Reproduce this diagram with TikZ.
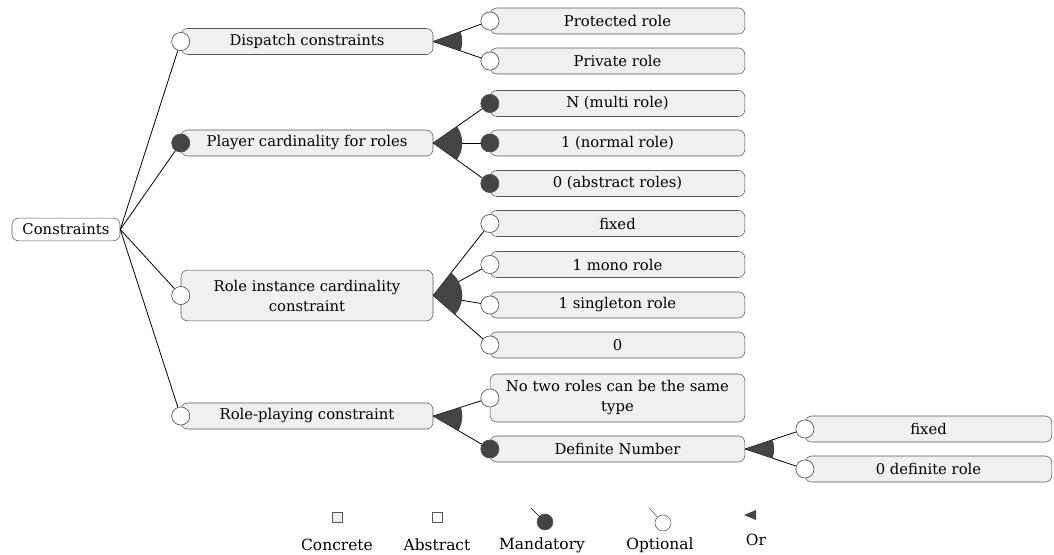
\documentclass[tikz,border=0pt]{standalone}
\usepackage{fontspec}
\setmainfont{DejaVu Serif}
\usetikzlibrary{calc}
\definecolor{boxgray}{HTML}{F0F0F0}
\definecolor{edgegray}{HTML}{555555}
\definecolor{darkfill}{HTML}{444444}
\tikzset{
  feat/.style={draw=edgegray, fill=boxgray, rounded corners=5pt, align=center, inner sep=1pt,
    font=\fontsize{11.1pt}{15pt}\selectfont, minimum height=19.5pt},
  lvlone/.style={feat, minimum width=189pt},
  lvltwo/.style={feat, minimum width=191pt},
  lvlthree/.style={feat, minimum width=185pt},
  rootbox/.style={feat, fill=white, minimum width=81pt, minimum height=17pt},
  optc/.style={circle, draw=edgegray, fill=white, minimum size=13.5pt, inner sep=0pt},
  mandc/.style={circle, draw=edgegray, fill=darkfill, minimum size=13.5pt, inner sep=0pt},
  conn/.style={draw=black, line width=0.6pt},
  legtext/.style={font=\fontsize{11.6pt}{13pt}\selectfont, inner sep=0pt},
}
% sector for or-groups: parent, first child circle, last child circle
\newcommand{\orsector}[3]{%
  \fill[darkfill] let \p1=($(#2)-(#1.east)$), \p2=($(#3)-(#1.east)$),
     \n1={atan2(\y1,\x1)}, \n2={atan2(\y2,\x2)} in
     (#1.east) -- ++(\n1:21.75pt) arc[start angle=\n1, end angle=\n2, radius=21.75pt] -- cycle;}
\begin{document}
\begin{tikzpicture}[x=0.75pt,y=0.75pt]
\useasboundingbox (0,0) rectangle (1054,-555);
% root
\node[rootbox] (root) at (66,-229.5) {Constraints};
% level 1
\node[lvlone] (disp) at (307,-41.5) {Dispatch constraints};
\node[lvlone] (play) at (307,-143) {Player cardinality for roles};
\node[lvlone, minimum height=38pt] (inst) at (307,-295.5) {Role instance cardinality\\constraint};
\node[lvlone] (rpc) at (307,-416) {Role-playing constraint};
% level 2
\node[lvltwo] (prot) at (617.5,-21) {Protected role};
\node[lvltwo] (priv) at (617.5,-61) {Private role};
\node[lvltwo] (multi) at (617.5,-103.5) {N (multi role)};
\node[lvltwo] (norm) at (617.5,-143) {1 (normal role)};
\node[lvltwo] (abst) at (617.5,-183.5) {0 (abstract roles)};
\node[lvltwo] (fix) at (617.5,-223.5) {fixed};
\node[lvltwo] (mono) at (617.5,-264.5) {1 mono role};
\node[lvltwo] (sing) at (617.5,-305) {1 singleton role};
\node[lvltwo] (zero) at (617.5,-345) {0};
\node[lvltwo, minimum height=36pt] (notwo) at (617.5,-398) {No two roles can be the same\\type};
\node[lvltwo] (defn) at (617.5,-449) {Definite Number};
% level 3
\node[lvlthree] (dfix) at (928.5,-429) {fixed};
\node[lvlthree] (dzero) at (928.5,-469) {0 definite role};
% circles
\node[optc] (c-disp) at (disp.west) {};
\node[mandc] (c-play) at (play.west) {};
\node[optc] (c-inst) at (inst.west) {};
\node[optc] (c-rpc) at (rpc.west) {};
\node[optc] (c-prot) at (prot.west) {};
\node[optc] (c-priv) at (priv.west) {};
\node[mandc] (c-multi) at (multi.west) {};
\node[mandc] (c-norm) at (norm.west) {};
\node[mandc] (c-abst) at (abst.west) {};
\node[optc] (c-fix) at (fix.west) {};
\node[optc] (c-mono) at (mono.west) {};
\node[optc] (c-sing) at (sing.west) {};
\node[optc] (c-zero) at (zero.west) {};
\node[optc] (c-notwo) at (notwo.west) {};
\node[mandc] (c-defn) at (defn.west) {};
\node[optc] (c-dfix) at (dfix.west) {};
\node[optc] (c-dzero) at (dzero.west) {};
% connectors
\foreach \c in {c-disp,c-play,c-inst,c-rpc} \draw[conn] (root.east) -- (\c);
\foreach \c in {c-prot,c-priv} \draw[conn] (disp.east) -- (\c);
\foreach \c in {c-multi,c-norm,c-abst} \draw[conn] (play.east) -- (\c);
\foreach \c in {c-fix,c-mono,c-sing,c-zero} \draw[conn] (inst.east) -- (\c);
\foreach \c in {c-notwo,c-defn} \draw[conn] (rpc.east) -- (\c);
\foreach \c in {c-dfix,c-dzero} \draw[conn] (defn.east) -- (\c);
% or sectors
\orsector{disp}{c-prot}{c-priv}
\orsector{play}{c-multi}{c-abst}
\orsector{inst}{c-fix}{c-zero}
\orsector{rpc}{c-notwo}{c-defn}
\orsector{defn}{c-dfix}{c-dzero}
% redraw circles on top
\foreach \n/\s in {disp/optc,play/mandc,inst/optc,rpc/optc,prot/optc,priv/optc,multi/mandc,norm/mandc,abst/mandc,fix/optc,mono/optc,sing/optc,zero/optc,notwo/optc,defn/mandc,dfix/optc,dzero/optc}
  \node[\s] at (\n.west) {};
% legend
\node[draw=edgegray, fill=boxgray, minimum size=7.5pt, inner sep=0pt] (lg-conc) at (337,-517) {};
\node[legtext] (lt-conc) at (337,-545) {Concrete};
\node[draw=edgegray, fill=white, minimum size=7.5pt, inner sep=0pt] (lg-abs) at (437,-517) {};
\node[legtext] (lt-abs) at (437,-545) {Abstract};
\node[mandc, minimum size=12pt] (lg-mand) at (545,-522) {};
\coordinate (lm-s) at (531,-508);
\draw[conn, line width=0.4pt] (lm-s) -- (lg-mand);
\node[legtext] (lt-mand) at (542,-545) {Mandatory};
\node[optc, minimum size=12pt] (lg-opt) at (663,-523) {};
\coordinate (lo-s) at (649,-508);
\draw[conn, line width=0.4pt, draw=edgegray] (lo-s) -- (lg-opt);
\node[legtext] (lt-opt) at (660,-545) {Optional};
\coordinate (lg-or) at (744,-515);
\fill[darkfill] (lg-or) -- ++(12,5) -- ++(0,-10) -- cycle;
\node[legtext] (lt-or) at (756,-540) {Or};
\end{tikzpicture}
\end{document}
